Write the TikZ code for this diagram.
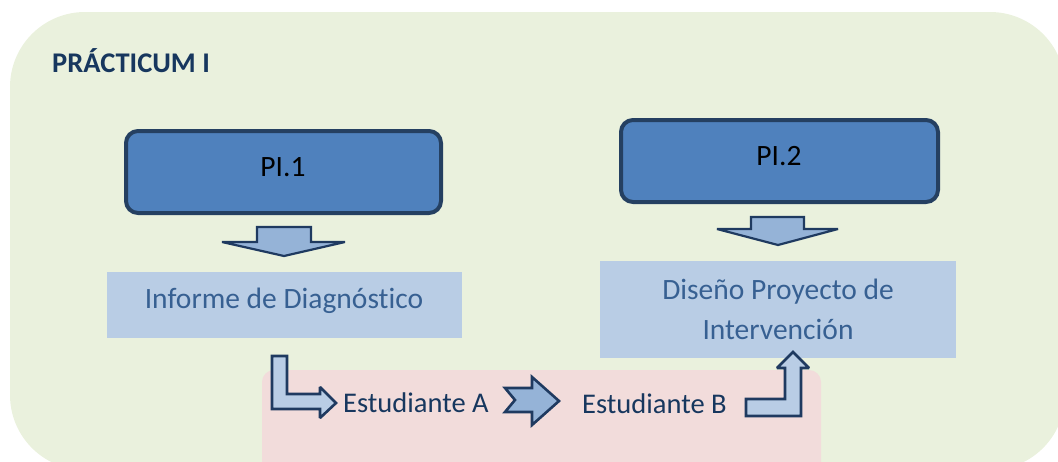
\documentclass[tikz,border=0pt]{standalone}
\usepackage{fontspec}
\setmainfont[Ligatures=NoCommon]{Carlito}
\definecolor{bggreen}{HTML}{EAF1DD}
\definecolor{bgpink}{HTML}{F2DCDB}
\definecolor{pibox}{HTML}{4F81BD}
\definecolor{piborder}{HTML}{254061}
\definecolor{lightbox}{HTML}{B9CDE5}
\definecolor{midarrow}{HTML}{95B3D7}
\definecolor{arrowborder}{HTML}{1F3A60}
\definecolor{boxtext}{HTML}{376092}
\definecolor{darktext}{HTML}{17375E}
\tikzset{
  pibx/.style={draw=piborder, fill=pibox, line width=4pt, rounded corners=12pt, inner sep=0pt},
  lbox/.style={fill=lightbox, inner sep=0pt},
  blockarrow/.style={draw=arrowborder, line width=2.6pt, line join=miter, miter limit=2.5},
  txt/.style={font=\fontsize{28.5}{34}\selectfont, inner sep=0pt, anchor=base},
  btxt/.style={font=\fontsize{29.5}{35}\selectfont, inner sep=0pt, anchor=base},
}
\begin{document}
\begin{tikzpicture}[x=1pt,y=-1pt]
\useasboundingbox (0,0) rectangle (1058,461);
\clip (0,0) rectangle (1058,461);
% background panels
\fill[bggreen, rounded corners=75pt] (10,12) rectangle (1065,470);
\fill[bgpink, rounded corners=12pt] (262,370) rectangle (821,480);
% title
\node[txt, anchor=base west, text=darktext, font=\fontsize{28.5}{34}\selectfont\bfseries] (title) at (52,72) {PRÁCTICUM I};
% PI boxes
\node[pibx, minimum width=315pt, minimum height=82pt] (pi1) at (283.5,172) {};
\node[btxt, text=black] (pi1t) at (283,176) {PI.1};
\node[pibx, minimum width=317pt, minimum height=82pt] (pi2) at (779.5,161) {};
\node[btxt, text=black] (pi2t) at (779,165) {PI.2};
% light boxes
\node[lbox, minimum width=355pt, minimum height=66pt] (inf) at (284.5,305) {};
\node[btxt, text=boxtext] (inft) at (284,308) {Informe de Diagnóstico};
\node[lbox, minimum width=356pt, minimum height=97pt] (dis) at (778,309.5) {};
\node[btxt, text=boxtext] (dist1) at (778,299) {Diseño Proyecto de};
\node[btxt, text=boxtext] (dist2) at (778,339) {Intervención};
% student labels
\node[txt, anchor=base west, text=darktext] (ea) at (343,412) {Estudiante A};
\node[txt, anchor=base west, text=darktext] (eb) at (582,413) {Estudiante B};
% down arrows
\draw[blockarrow, fill=midarrow, line width=2.2pt] (257,227) -- (311,227) -- (311,242) -- (345,242) -- (284,256) -- (222,242) -- (257,242) -- cycle;
\draw[blockarrow, fill=midarrow, line width=2.2pt] (751,217) -- (804,217) -- (804,229) -- (838,229) -- (778,245) -- (717,229) -- (751,229) -- cycle;
% bent arrow from Informe to Estudiante A
\draw[blockarrow, fill=lightbox] (272,356) -- (287,356) -- (287,394) -- (320,394) -- (320,387) -- (336,403) -- (320,418) -- (320,409) -- (272,409) -- cycle;
% notched arrow between students
\draw[blockarrow, fill=midarrow] (505,388) -- (532,388) -- (532,377) -- (559,401) -- (532,425) -- (532,412) -- (505,412) -- (515,400) -- cycle;
% bent arrow from Estudiante B up to Diseño
\draw[blockarrow, fill=lightbox] (746,399) -- (785,399) -- (785,368) -- (777,368) -- (793,352) -- (809,368) -- (801,368) -- (801,416) -- (746,416) -- cycle;
\end{tikzpicture}
\end{document}
